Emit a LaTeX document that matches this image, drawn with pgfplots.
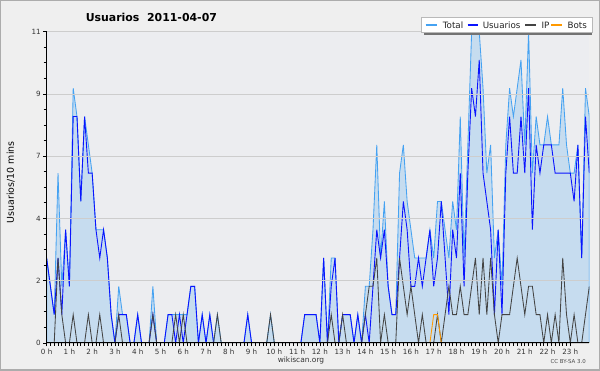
\documentclass[border=0pt]{standalone}
\usepackage{fontspec}
\setmainfont{DejaVu Sans}
\usepackage{pgfplots}
\usepackage{pgfplotstable}
\pgfplotsset{compat=1.18}
\definecolor{outerbg}{HTML}{EFEFEF}
\definecolor{plotbg}{HTML}{ECEDF0}
\definecolor{totline}{HTML}{45A2F2}
\definecolor{totfill}{HTML}{C6DCEF}
\definecolor{usrline}{HTML}{0A14FF}
\definecolor{ipline}{HTML}{444444}
\definecolor{botline}{HTML}{FF9900}
\definecolor{gridc}{HTML}{CDCDCD}
\pgfplotstableread{
i T U IP B
0 3 3 0 0
1 2 2 0 0
2 1 1 0 0
3 6 3 3 0
4 2 1 1 0
5 4 4 0 0
6 2 2 0 0
7 9 8 1 0
8 8 8 0 0
9 5 5 0 0
10 8 8 0 0
11 7 6 1 0
12 6 6 0 0
13 4 4 0 0
14 4 3 1 0
15 4 4 0 0
16 3 3 0 0
17 1 1 0 0
18 0 0 0 0
19 2 1 1 0
20 1 1 0 0
21 1 1 0 0
22 0 0 0 0
23 0 0 0 0
24 1 1 0 0
25 0 0 0 0
26 0 0 0 0
27 0 0 0 0
28 2 1 1 0
29 0 0 0 0
30 0 0 0 0
31 0 0 0 0
32 1 1 0 0
33 1 1 0 0
34 1 0 1 0
35 1 1 0 0
36 1 0 1 0
37 1 1 0 0
38 2 2 0 0
39 2 2 0 0
40 0 0 0 0
41 1 1 0 0
42 0 0 0 0
43 1 1 0 0
44 0 0 0 0
45 1 0 1 0
46 0 0 0 0
47 0 0 0 0
48 0 0 0 0
49 0 0 0 0
50 0 0 0 0
51 0 0 0 0
52 0 0 0 0
53 1 1 0 0
54 0 0 0 0
55 0 0 0 0
56 0 0 0 0
57 0 0 0 0
58 0 0 0 0
59 1 0 1 0
60 0 0 0 0
61 0 0 0 0
62 0 0 0 0
63 0 0 0 0
64 0 0 0 0
65 0 0 0 0
66 0 0 0 0
67 0 0 0 0
68 1 1 0 0
69 1 1 0 0
70 1 1 0 0
71 1 1 0 0
72 0 0 0 0
73 3 3 0 0
74 0 0 0 0
75 3 2 1 0
76 3 3 0 0
77 0 0 0 0
78 1 1 1 0
79 1 1 0 0
80 1 1 0 0
81 0 0 0 0
82 1 1 0 0
83 0 0 0 0
84 2 1 1 0
85 2 0 2 0
86 4 2 2 0
87 7 4 3 0
88 3 3 0 0
89 5 4 1 0
90 2 2 0 0
91 1 1 0 0
92 1 1 0 0
93 6 3 3 0
94 7 5 2 0
95 5 4 1 0
96 4 2 2 0
97 3 2 1 0
98 3 3 0 0
99 3 2 1 0
100 3 3 0 0
101 4 4 0 0
102 3 2 0 1
103 5 3 1 1
104 5 5 0 0
105 4 3 1 0
106 3 1 2 0
107 5 4 1 0
108 4 3 1 0
109 8 6 2 0
110 3 2 1 0
111 7 6 1 0
112 11 9 2 0
113 11 8 3 0
114 11 10 1 0
115 9 6 3 0
116 6 5 1 0
117 7 4 3 0
118 3 1 1 0
119 4 4 0 0
120 2 1 1 0
121 7 6 1 0
122 9 8 1 0
123 8 6 2 0
124 9 6 3 0
125 10 8 2 0
126 7 6 1 0
127 11 9 2 0
128 6 4 2 0
129 8 7 1 0
130 7 6 1 0
131 7 7 0 0
132 8 7 1 0
133 7 7 0 0
134 7 6 1 0
135 7 6 0 0
136 9 6 3 0
137 7 6 1 0
138 6 6 0 0
139 6 5 1 0
140 7 7 0 0
141 3 3 0 0
142 9 8 1 0
143 8 6 2 0
}\data
\begin{document}
\begin{tikzpicture}[x=1bp,y=1bp]
\path[use as bounding box, fill=outerbg, draw=gray!65, line width=1.5bp] (0,0) rectangle (600,370);
\begin{axis}[
  at={(46bp,27bp)}, anchor=south west,
  scale only axis, width=544bp, height=312bp,
  xmin=0, xmax=143, ymin=0, ymax=11,
  axis on top,
  axis background/.style={fill=plotbg},
  axis x line*=bottom, axis y line*=left,
  axis line style={black, line width=0.9bp},
  ytick={0,2.2,4.4,6.6,8.8,11}, yticklabels={0,2,4,7,9,11},
  minor y tick num=3,
  xtick={0,6,...,138},
  xticklabels={0 h,1 h,2 h,3 h,4 h,5 h,6 h,7 h,8 h,9 h,10 h,11 h,12 h,13 h,14 h,15 h,16 h,17 h,18 h,19 h,20 h,21 h,22 h,23 h},
  minor x tick num=5,
  tick align=outside,
  major tick length=3.5bp, minor tick length=3bp,
  tick style={black, line width=0.7bp},
  ymajorgrids, major grid style={gridc, line width=0.7bp},
  tick label style={font=\fontsize{7.2}{8}\selectfont, text=black!80},
  xticklabel style={yshift=1bp},
  yticklabel style={xshift=1bp},
]
\addplot[draw=totline, fill=totfill, line width=0.85bp] table[x=i, y=T] {\data} \closedcycle;
\addplot[draw=usrline, line width=0.9bp] table[x=i, y=U] {\data};
\addplot[draw=ipline, line width=0.85bp] table[x=i, y=IP] {\data};
\addplot[draw=botline, line width=0.85bp] table[x=i, y=B] {\data};
\end{axis}
% legend
\fill[gray!90!black] (424,335.3) rectangle (593,338.3);
\draw[gray!55, fill=white, line width=0.7bp] (422,338.3) rectangle (593,353);
\draw[totline, line width=1.3bp] (426,345.7) -- (437,345.7);
\draw[usrline, line width=1.3bp] (468,345.7) -- (478,345.7);
\draw[ipline, line width=1.3bp] (526,345.7) -- (537,345.7);
\draw[botline, line width=1.3bp] (552,345.7) -- (563,345.7);
\begin{scope}[every node/.style={font=\fontsize{8.8}{10}\selectfont, text=black!85, anchor=west, inner sep=0pt}]
\node at (443,345.7) {Total};
\node at (483,345.7) {Usuarios};
\node at (542,345.7) {IP};
\node at (568,345.7) {Bots};
\end{scope}
\node[font=\bfseries\fontsize{11}{13}\selectfont] at (151,353) {Usuarios\ \ 2011-04-07};
\node[rotate=90, font=\fontsize{9.5}{11}\selectfont] at (10,188) {Usuarios/10 mins};
\node[font=\fontsize{7.5}{9}\selectfont, text=black!80] at (301,9) {wikiscan.org};
\node[font=\fontsize{5.5}{7}\selectfont, text=black!70, anchor=east] at (590,8) {CC BY-SA 3.0};
\end{tikzpicture}
\end{document}
